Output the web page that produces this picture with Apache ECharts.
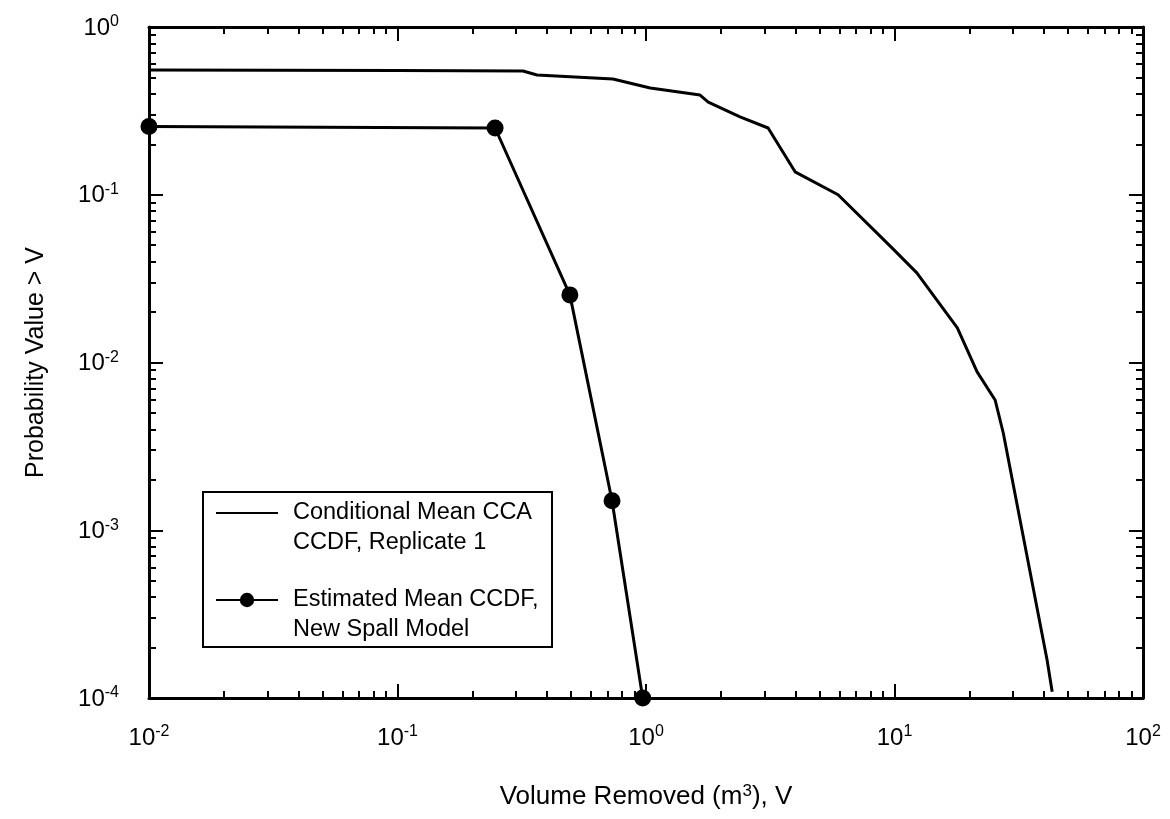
<!DOCTYPE html>
<html>
<head>
<meta charset="utf-8">
<script src="https://cdn.jsdelivr.net/npm/echarts@6/dist/echarts.min.js"></script>
<style>html,body{margin:0;padding:0;background:#fff;}#c{width:1170px;height:819px;}</style>
</head>
<body>
<div id="c"></div>
<script>
// ---- data ----
const ccaVolume = [0.01, 0.1, 0.32, 0.364, 0.736, 1.04, 1.65, 1.78, 2.39, 3.1, 3.98, 5.93, 9.77, 12.3, 17.9, 21.5, 25.4, 27.4, 32.6, 41.1, 43.1];
const ccaProb   = [0.555, 0.55, 0.547, 0.517, 0.49, 0.433, 0.393, 0.357, 0.291, 0.25, 0.137, 0.1, 0.0482, 0.0342, 0.0161, 0.00879, 0.00598, 0.0038, 0.001, 0.000169, 0.000109];
const spallVolume = [0.01, 0.247, 0.494, 0.73, 0.97];
const spallProb   = [0.255, 0.25, 0.0253, 0.0015, 0.0001];
const seriesNames = ['Conditional Mean CCA\nCCDF, Replicate 1', 'Estimated Mean CCDF,\nNew Spall Model'];
const xMajorTicks = [0.01, 0.1, 1, 10, 100];
const yMajorTicks = [0.0001, 0.001, 0.01, 0.1, 1];
const minorMultipliers = [2, 3, 4, 5, 6, 7, 8, 9];
const xTitle = 'Volume Removed (m{s|3}), V';
const yTitle = 'Probability Value > V';

function minorTicks(majors) {
  const out = [];
  for (let i = 0; i < majors.length - 1; i++) minorMultipliers.forEach(m => out.push(m * majors[i]));
  return out;
}
const FONT = 'Liberation Sans';
const labelRich = {
  b: {fontSize: 24, fontFamily: FONT, color: '#000', verticalAlign: 'bottom'},
  s: {fontSize: 16, fontFamily: FONT, color: '#000', verticalAlign: 'bottom', padding: [0, 0, 10, 0]}
};
function expLabel(v) { return '{b|10}{s|' + Math.round(Math.log10(v)) + '}'; }

function makeAxis(kind, pos, majors, isMajor, withLabel, extra) {
  const ax = {
    type: 'log', logBase: 10, position: pos,
    min: majors[0], max: majors[majors.length - 1],
    axisLine: {show: isMajor, lineStyle: {color: '#000', width: 3}},
    axisTick: {show: true, inside: true, length: isMajor ? 14 : 7,
      customValues: isMajor ? majors : minorTicks(majors),
      lineStyle: {color: '#000', width: 2}},
    axisLabel: withLabel ? {show: true, customValues: majors, formatter: expLabel, rich: labelRich, margin: kind === 'x' ? 26 : 30} : {show: false},
    splitLine: {show: false},
    minorTick: {show: false}
  };
  return Object.assign(ax, extra || {});
}

const chart = echarts.init(document.getElementById('c'), null, {renderer: 'canvas'});
const option = {
  backgroundColor: '#fff',
  animation: false,
  grid: {left: 149, right: 27, top: 27, bottom: 121, containLabel: false},
  xAxis: [
    makeAxis('x', 'bottom', xMajorTicks, true, true, {
      name: xTitle, nameLocation: 'middle', nameGap: 85,
      nameTextStyle: {fontSize: 26, fontFamily: FONT, color: '#000',
        rich: {s: {fontSize: 17, fontFamily: FONT, color: '#000', verticalAlign: 'bottom', padding: [0, 0, 11, 0]}}}
    }),
    makeAxis('x', 'bottom', xMajorTicks, false, false),
    makeAxis('x', 'top', xMajorTicks, true, false),
    makeAxis('x', 'top', xMajorTicks, false, false)
  ],
  yAxis: [
    makeAxis('y', 'left', yMajorTicks, true, true, {
      name: yTitle, nameLocation: 'middle', nameGap: 100, nameRotate: 90,
      nameTextStyle: {fontSize: 25, fontFamily: FONT, color: '#000'}
    }),
    makeAxis('y', 'left', yMajorTicks, false, false),
    makeAxis('y', 'right', yMajorTicks, true, false),
    makeAxis('y', 'right', yMajorTicks, false, false)
  ],
  graphic: [{
    type: 'rect', z: 1, shape: {x: 203, y: 492, width: 349, height: 155},
    style: {fill: '#fff', stroke: '#000', lineWidth: 2}
  }],
  legend: {
    show: true, orient: 'vertical', left: 215, top: 468, z: 10,
    padding: 0, itemGap: -3, itemWidth: 62, itemHeight: 18,
    data: [
      {name: seriesNames[0], icon: 'path://M0,0L62,0L62,2L0,2Z'},
      {name: seriesNames[1]}
    ],
    formatter: name => '\n' + name,
    textStyle: {fontSize: 23.5, fontFamily: FONT, color: '#000', lineHeight: 30, padding: [0, 0, 0, 10]},
    selectedMode: false
  },
  series: [
    {
      name: seriesNames[0], type: 'line', xAxisIndex: 0, yAxisIndex: 0,
      symbol: 'none', z: 3,
      lineStyle: {color: '#000', width: 3},
      itemStyle: {color: '#000'},
      data: ccaVolume.map((v, i) => [v, ccaProb[i]])
    },
    {
      name: seriesNames[1], type: 'line', xAxisIndex: 0, yAxisIndex: 0,
      symbol: 'circle', symbolSize: 17, showSymbol: true, z: 4,
      lineStyle: {color: '#000', width: 3},
      itemStyle: {color: '#000'},
      data: spallVolume.map((v, i) => [v, spallProb[i]])
    }
  ]
};
chart.setOption(option);
</script>
</body>
</html>
